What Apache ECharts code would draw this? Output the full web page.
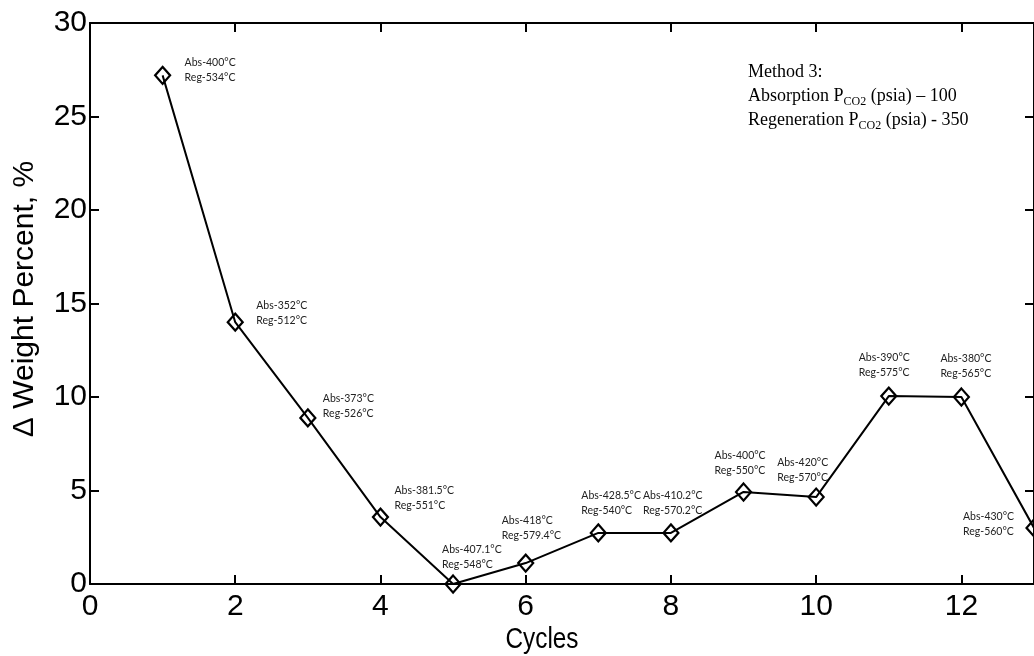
<!DOCTYPE html>
<html>
<head>
<meta charset="utf-8">
<script src="https://cdn.jsdelivr.net/npm/echarts@6/dist/echarts.min.js"></script>
<style>
  html, body { margin: 0; padding: 0; background: #fff; }
  #chart { width: 1034px; height: 656px; }
</style>
</head>
<body>
<div id="chart"></div>
<script>
// Cycle number and the weight change measured at the end of each cycle
const cycles = [1, 2, 3, 4, 5, 6, 7, 8, 9, 10, 11, 12, 13];
const weightPct = [27.2, 14.0, 8.88, 3.58, 0.0, 1.12, 2.73, 2.73, 4.92, 4.65, 10.05, 10.0, 3.0];
// Absorption / regeneration temperatures (°C) for each cycle
const absTemp = ['400', '352', '373', '381.5', '407.1', '418', '428.5', '410.2', '400', '420', '390', '380', '430'];
const regTemp = ['534', '512', '526', '551', '548', '579.4', '540', '570.2', '550', '570', '575', '565', '560'];
// Text of the method note
const noteLines = ['Method 3:', 'Absorption P', 'CO2', ' (psia) – 100', 'Regeneration P', 'CO2', ' (psia) - 350'];

// Label placement relative to each marker (left edge, vertical centre), in px
const labelOffsets = [
  [22, -5], [21, -9], [15, -12], [14, -19], [-11, -27], [-24, -35], [-17, -30],
  [-28, -30], [-29, -29], [-39, -27], [-30, -31], [-21, -31], [-71, -4]
];

const chart = echarts.init(document.getElementById('chart'), null, { renderer: 'canvas' });

const tickFont = { fontFamily: 'Liberation Sans, Arial, sans-serif', fontSize: 30, color: '#000' };
const axisLine = { show: true, onZero: false, lineStyle: { color: '#000', width: 2 } };
const axisTick = { show: true, inside: true, length: 9, lineStyle: { color: '#000', width: 2 } };

const option = {
  backgroundColor: '#fff',
  animation: false,
  grid: { left: 90, right: -3, top: 23, bottom: 72, containLabel: false },
  xAxis: [
    {
      type: 'value', min: 0, max: 13, interval: 2, position: 'bottom',
      axisLine: axisLine, axisTick: axisTick,
      axisLabel: Object.assign({ margin: 8, showMaxLabel: false }, tickFont),
      splitLine: { show: false }
    },
    {
      type: 'value', min: 0, max: 13, interval: 2, position: 'top',
      axisLine: axisLine, axisTick: axisTick,
      axisLabel: { show: false },
      splitLine: { show: false }
    }
  ],
  yAxis: [
    {
      type: 'value', min: 0, max: 30, interval: 5, position: 'left',
      axisLine: axisLine, axisTick: axisTick,
      axisLabel: Object.assign({ margin: 3 }, tickFont),
      splitLine: { show: false }
    },
    {
      type: 'value', min: 0, max: 30, interval: 5, position: 'right',
      axisLine: axisLine, axisTick: axisTick,
      axisLabel: { show: false },
      splitLine: { show: false }
    }
  ],
  graphic: [
    {
      type: 'text',
      x: 25, y: 299,
      rotation: Math.PI / 2,
      style: {
        text: 'Δ Weight Percent, %',
        font: '30px "Liberation Sans", Arial, sans-serif',
        fill: '#000', align: 'center', verticalAlign: 'middle'
      }
    },
    {
      type: 'text',
      x: 542, y: 640,
      scaleX: 0.84,
      style: {
        text: 'Cycles',
        font: '29px "Liberation Sans", Arial, sans-serif',
        fill: '#000', align: 'center', verticalAlign: 'middle'
      }
    },
    {
      type: 'text', left: 748, top: 60,
      style: {
        text: noteLines[0] + '\n' +
          '{n|' + noteLines[1] + '}{s|' + noteLines[2] + '}{n|' + noteLines[3] + '}\n' +
          '{n|' + noteLines[4] + '}{s|' + noteLines[5] + '}{n|' + noteLines[6] + '}',
        font: '18px "Liberation Serif", "Times New Roman", serif',
        lineHeight: 24,
        fill: '#000',
        rich: {
          n: { fontFamily: 'Liberation Serif', fontSize: 18, lineHeight: 24, fill: '#000', color: '#000' },
          s: { fontFamily: 'Liberation Serif', fontSize: 12, lineHeight: 24, verticalAlign: 'bottom', fill: '#000', color: '#000' }
        }
      }
    }
  ],
  series: [
    {
      type: 'line',
      xAxisIndex: 0, yAxisIndex: 0,
      data: cycles.map((c, i) => ({
        value: [c, weightPct[i]],
        label: { offset: labelOffsets[i] }
      })),
      symbol: 'diamond',
      symbolSize: [15, 17],
      showAllSymbol: true,
      clip: false,
      lineStyle: { color: '#000', width: 2 },
      itemStyle: { color: 'rgba(255,255,255,0)', borderColor: '#000', borderWidth: 2.2 },
      label: {
        show: true,
        position: 'inside',
        align: 'left',
        verticalAlign: 'middle',
        fontFamily: 'Lato, "Open Sans", sans-serif',
        fontSize: 10.5,
        lineHeight: 15,
        color: '#222',
        formatter: p => 'Abs-' + absTemp[p.dataIndex] + '°C\nReg-' + regTemp[p.dataIndex] + '°C'
      },
      emphasis: { disabled: true }
    }
  ]
};

chart.setOption(option);
</script>
</body>
</html>
